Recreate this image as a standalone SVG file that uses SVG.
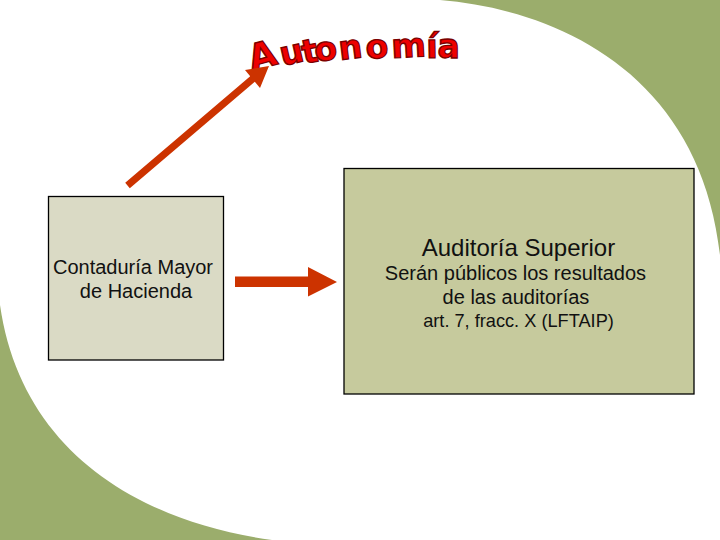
<svg xmlns="http://www.w3.org/2000/svg" width="720" height="540" viewBox="0 0 720 540">
<style>
.corner{fill:#9bad6c}
.box{stroke:#000;stroke-width:1.3}
.arrow{fill:#cc3300}
text{font-family:"Liberation Sans",Arial,sans-serif;fill:#111;text-anchor:middle}
.wa{font-family:"DejaVu Sans",sans-serif;font-weight:bold;font-size:33px;fill:#ee0000;stroke:#7a0000;stroke-width:1.300;text-anchor:start}
</style>
<rect width="720" height="540" fill="#fff"/>
<path class="corner" d="M440 0C560 10 700 75 720 255V0Z"/>
<path class="corner" d="M0 305C20 445 130 520 272 540H0Z"/>
<g id="contaduria">
<rect class="box" x="48.5" y="196.5" width="175" height="163.500" fill="#dadac5"/>
<text x="133" y="273.500" font-size="20">Contaduría Mayor</text>
<text x="136" y="297.500" font-size="20">de Hacienda</text>
</g>
<g id="auditoria">
<rect class="box" x="344" y="168.500" width="350" height="225.500" fill="#c6ca9d"/>
<text x="518.500" y="255.500" font-size="24">Auditoría Superior</text>
<text x="515.500" y="279.500" font-size="20">Serán públicos los resultados</text>
<text x="516" y="303.500" font-size="20">de las auditorías</text>
<text x="518.500" y="326.500" font-size="18.200">art. 7, fracc. X (LFTAIP)</text>
</g>
<g id="autonomia">
<text class="wa" x="252 282.500 304 316 340 366.500 392 426.500 437.500" y="71 66 64 62 60 59 58 58 58" rotate="-15 -13 -11 -9 -7 -5 -3 -1 0"><tspan style="font-size:36px">A</tspan>utonomía</text>
</g>
<g id="connectors">
<polygon class="arrow" points="235,276.500 308,276.500 308,267 337,282 308,296.500 308,287 235,287"/>
<polygon class="arrow" points="125.200,182.800 250.200,76.200 245,70 269,66 260,88 254.800,81.800 129.800,188.300"/>
</g>
</svg>
